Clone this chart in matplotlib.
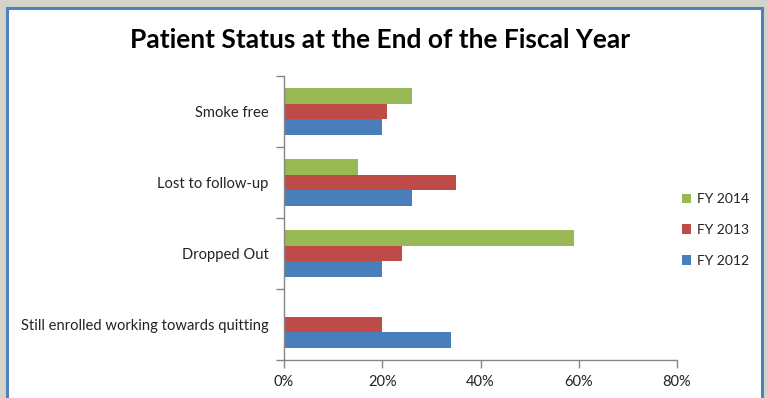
import matplotlib
matplotlib.use("Agg")
import matplotlib.pyplot as plt
import numpy as np
from matplotlib.patches import Rectangle
from matplotlib.ticker import FuncFormatter, MultipleLocator

categories = ["Still enrolled working towards quitting", "Dropped Out",
              "Lost to follow-up", "Smoke free"]
fy2012 = [34, 20, 26, 20]
fy2013 = [20, 24, 35, 21]
fy2014 = [0, 59, 15, 26]
series_names = ["FY 2012", "FY 2013", "FY 2014"]
colors = ["#4a7ebb", "#be4b48", "#98b954"]

plt.rcParams['font.family'] = ['Lato', 'DejaVu Sans']

fig = plt.figure(figsize=(7.68, 3.98), dpi=100)
fig.patch.set_facecolor("#d5d2ca")
W, H = 768, 398
# white chart panel with blue border
fig.patches.append(Rectangle((7 / W, -0.05), (762 - 7) / W, (398 - 8) / H + 0.05,
                             transform=fig.transFigure, facecolor="white",
                             edgecolor="#4f81bd", linewidth=2.2, zorder=-2))
fig.patches.append(Rectangle((-0.01, 1 - 380 / H), 3.5 / W, (380 - 76) / H,
                             transform=fig.transFigure, facecolor="#f4f4f4",
                             edgecolor="#4f81bd", linewidth=1.5, zorder=-2))

ax = fig.add_axes([284 / W, 1 - 360 / H, (677 - 284) / W, (360 - 76) / H])
ax.set_zorder(2)
ax.set_facecolor("none")

y = np.arange(len(categories))
h = 0.22
for i, (vals, name, c) in enumerate(zip([fy2012, fy2013, fy2014], series_names, colors)):
    offs = (i - 1) * h * -1
    ax.barh(y - offs, vals, height=h, color=c, label=name, edgecolor="none")

ax.set_xlim(0, 80)
ax.set_ylim(-0.5, len(categories) - 0.5)
ax.xaxis.set_major_locator(MultipleLocator(20))
ax.xaxis.set_major_formatter(FuncFormatter(lambda v, p: f"{v:.0f}%"))
ax.set_yticks(y)
ax.set_yticklabels(categories)
ax.set_yticks(np.arange(-0.5, len(categories)), minor=True)
ax.tick_params(axis='y', which='major', length=0, pad=11, labelsize=10.6, labelcolor="#222222")
ax.tick_params(axis='y', which='minor', length=6, color="#868686", width=1)
ax.tick_params(axis='x', length=6, color="#868686", width=1, labelsize=10.5,
               labelcolor="#222222", pad=5)
for s in ["top", "right"]:
    ax.spines[s].set_visible(False)
for s in ["left", "bottom"]:
    ax.spines[s].set_color("#868686")
    ax.spines[s].set_linewidth(1)

handles, labels = ax.get_legend_handles_labels()
leg = fig.legend(handles[::-1], labels[::-1], loc="center left",
                 bbox_to_anchor=(669 / W, 1 - 230 / H), frameon=False,
                 fontsize=10, handlelength=0.7, handleheight=0.7,
                 labelspacing=1.35, handletextpad=0.4)
for t in leg.get_texts():
    t.set_color("#222222")

fig.text(380 / W, 1 - 40 / H, "Patient Status at the End of the Fiscal Year",
         ha="center", va="center", fontsize=19, fontweight="bold", color="black")

fig.savefig("out.png", dpi=100, facecolor=fig.get_facecolor())
